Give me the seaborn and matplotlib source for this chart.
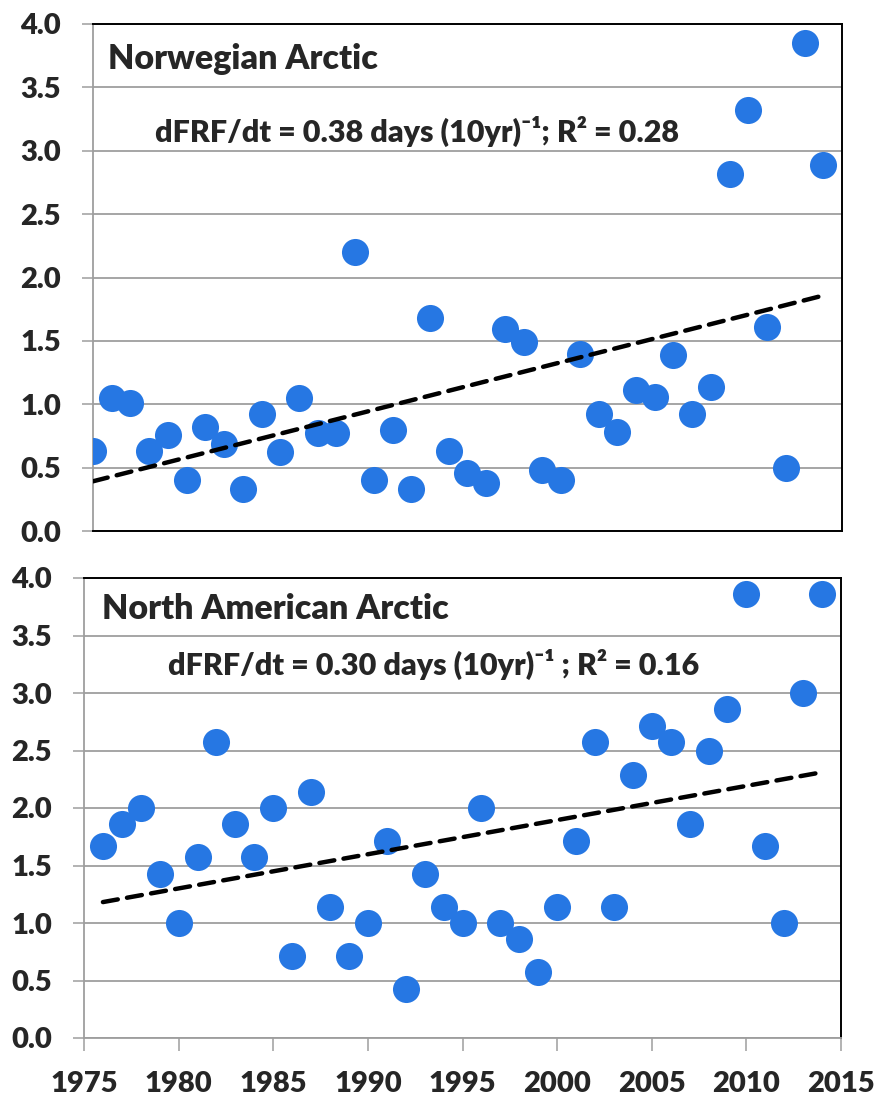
import numpy as np
import pandas as pd
import matplotlib.pyplot as plt
import seaborn as sns

# Data (first freeze-free day anomaly, days)
years_nor = list(range(1975, 2015))
frf_nor = [0.63, 1.05, 1.01, 0.63, 0.76, 0.40, 0.82, 0.69, 0.33, 0.92,
           0.62, 1.05, 0.77, 0.77, 2.20, 0.40, 0.80, 0.33, 1.68, 0.63,
           0.46, 0.38, 1.59, 1.49, 0.48, 0.40, 1.40, 0.92, 0.78, 1.11,
           1.06, 1.39, 0.92, 1.14, 2.82, 3.32, 1.61, 0.50, 3.85, 2.89]

years_nam = list(range(1976, 2015))
frf_nam = [1.67, 1.86, 2.00, 1.43, 1.00, 1.57, 2.57, 1.86, 1.57, 2.00,
           0.71, 2.14, 1.14, 0.71, 1.00, 1.71, 0.43, 1.43, 1.14, 1.00,
           2.00, 1.00, 0.86, 0.57, 1.14, 1.71, 2.57, 1.14, 2.29, 2.71,
           2.57, 1.86, 2.50, 2.86, 3.86, 1.67, 1.00, 3.00, 3.86]

titles = ["Norwegian Arctic", "North American Arctic"]
equations = ["dFRF/dt = 0.38 days (10yr)\u207b\u00b9; R\u00b2 = 0.28",
             "dFRF/dt = 0.30 days (10yr)\u207b\u00b9 ; R\u00b2 = 0.16"]
x_ticks = list(range(1975, 2016, 5))
y_ticks = list(np.arange(0, 4.01, 0.5))

sns.set_style("white")
plt.rcParams['font.family'] = ['Lato', 'DejaVu Sans']
plt.rcParams['font.weight'] = 'heavy'

dot_color = "#2677E3"
grid_gray = "#9E9E9E"
tick_size = 21

fig = plt.figure(figsize=(8.8, 10.97), dpi=100)
ax_top = fig.add_axes([93 / 880, 1 - 531 / 1097, 749 / 880, 507 / 1097])
ax_bot = fig.add_axes([84 / 880, 1 - 1038 / 1097, 757 / 880, 460 / 1097])

# (axes, data, title x, title baseline y, equation x, equation baseline y) in axes fractions
panels = [
    (ax_top, pd.DataFrame({"year": years_nor, "frf": frf_nor}), 0.02, 0.911, 0.083, 0.767),
    (ax_bot, pd.DataFrame({"year": years_nam, "frf": frf_nam}), 0.0235, 0.911, 0.111, 0.789),
]

for i, (ax, df, tx, ty, ex, ey) in enumerate(panels):
    ax.set_axisbelow(True)
    sns.scatterplot(data=df, x="year", y="frf", ax=ax, s=380,
                    color=dot_color, linewidth=0, zorder=3)
    sns.regplot(data=df, x="year", y="frf", ax=ax, scatter=False, ci=None,
                line_kws={"color": "black", "lw": 3.2, "ls": (0, (3.4, 2.1)),
                          "dash_capstyle": "round", "zorder": 4})

    ax.set_xlim(1975, 2015)
    ax.set_ylim(0, 4)
    ax.set_yticks(y_ticks)
    ax.set_yticklabels([f"{v:.1f}" for v in y_ticks], fontsize=tick_size,
                       fontweight='heavy')
    ax.yaxis.grid(True, color=grid_gray, lw=1.3)
    ax.xaxis.grid(False)
    ax.set_xlabel("")
    ax.set_ylabel("")

    ax.tick_params(axis='y', left=True, direction='out', length=8, width=1.1,
                   color=grid_gray, pad=15)
    for side in ["top", "right"]:
        ax.spines[side].set_color("black")
        ax.spines[side].set_linewidth(1.4)
    ax.spines["left"].set_color(grid_gray)
    ax.spines["left"].set_linewidth(1.3)

    ax.text(tx, ty, titles[i], transform=ax.transAxes, fontsize=24.5,
            fontweight='heavy', va='baseline', ha='left')
    ax.text(ex, ey, equations[i], transform=ax.transAxes, fontsize=22,
            fontweight='heavy', va='baseline', ha='left')

# top panel: no x ticks, black bottom edge
ax_top.set_xticks(x_ticks)
ax_top.tick_params(axis='x', bottom=False, labelbottom=False)
ax_top.spines["bottom"].set_color("black")
ax_top.spines["bottom"].set_linewidth(1.4)

# bottom panel: year ticks
ax_bot.set_xticks(x_ticks)
ax_bot.set_xticklabels([str(t) for t in x_ticks], fontsize=tick_size,
                       fontweight='heavy')
ax_bot.tick_params(axis='x', bottom=True, direction='out', length=9, width=1.1,
                   color=grid_gray, pad=15)
ax_bot.spines["bottom"].set_color(grid_gray)
ax_bot.spines["bottom"].set_linewidth(1.3)

fig.savefig("out.png", dpi=100)
